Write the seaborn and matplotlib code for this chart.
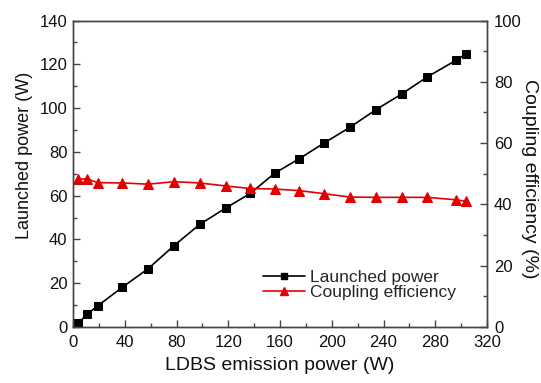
import matplotlib
matplotlib.use("Agg")
import matplotlib.pyplot as plt
import seaborn as sns
import pandas as pd
from matplotlib.ticker import MultipleLocator
from matplotlib.lines import Line2D

sns.set_theme(style="ticks")
plt.rcParams['font.family'] = ['Liberation Sans', 'DejaVu Sans']

emission = [4, 11, 19, 38, 58, 78, 98, 118, 137, 156, 175, 194, 214, 234, 254, 274, 296, 304]
launched = [1.7, 5.9, 9.6, 18.1, 26.6, 37.1, 46.9, 54.3, 61.0, 70.3, 76.9, 84.0, 91.2, 99.2, 106.4, 114.3, 121.8, 124.8]
efficiency = [48.3, 48.3, 47.1, 47.0, 46.6, 47.4, 47.0, 46.0, 45.2, 45.0, 44.5, 43.5, 42.4, 42.3, 42.3, 42.3, 41.5, 41.0]

df = pd.DataFrame({"emission": emission, "launched": launched, "efficiency": efficiency})

fig = plt.figure(figsize=(5.41, 3.83), dpi=100)
ax = fig.add_axes([73/541, 1 - 327/383, (487-73)/541, (327-20.5)/383])
ax2 = ax.twinx()

sns.lineplot(data=df, x="emission", y="launched", ax=ax, color="black", marker="s",
             markersize=6, markeredgecolor="black", linewidth=1.2, legend=False)
sns.lineplot(data=df, x="emission", y="efficiency", ax=ax2, color="#e30000", marker="^",
             markersize=7, markeredgecolor="#e30000", linewidth=1.2, legend=False)

ax.set_xlim(0, 320)
ax.set_ylim(0, 140)
ax2.set_ylim(0, 100)
ax.xaxis.set_major_locator(MultipleLocator(40))
ax.xaxis.set_minor_locator(MultipleLocator(20))
ax.yaxis.set_major_locator(MultipleLocator(20))
ax.yaxis.set_minor_locator(MultipleLocator(10))
ax2.yaxis.set_major_locator(MultipleLocator(20))
ax2.yaxis.set_minor_locator(MultipleLocator(10))

spine_col = "#444444"
for a in (ax, ax2):
    for s in a.spines.values():
        s.set_color(spine_col)
        s.set_linewidth(1.0)
        s.set_visible(True)
    a.tick_params(which="both", direction="in", color=spine_col, labelsize=12, labelcolor="#111111")
    a.tick_params(which="major", length=5, width=1)
    a.tick_params(which="minor", length=3, width=1)

ax.tick_params(axis="y", which="both", right=False, pad=4)
ax.tick_params(axis="x", which="both", top=False, pad=6)
ax2.tick_params(axis="y", pad=5)

ax.set_xlabel("LDBS emission power (W)", fontsize=14, color="#111111", labelpad=5)
ax.set_ylabel("Launched power (W)", fontsize=13, color="#111111")
ax.yaxis.set_label_coords(-0.0966, 0.56)
ax2.set_ylabel("Coupling efficiency (%)", fontsize=14, color="#111111", rotation=270)
ax2.yaxis.set_label_coords(1.124, 0.483)

handles = [
    Line2D([], [], color="black", marker="s", markersize=5, linewidth=1.2),
    Line2D([], [], color="#e30000", marker="^", markersize=6, linewidth=1.2),
]
ax.legend(handles, ["Launched power", "Coupling efficiency"], loc="center left",
          bbox_to_anchor=(0.459, 0.136), frameon=False, fontsize=12.5, handlelength=2.4,
          handletextpad=0.3, labelspacing=0.0, borderpad=0, borderaxespad=0)

fig.savefig("out.png", dpi=100)
